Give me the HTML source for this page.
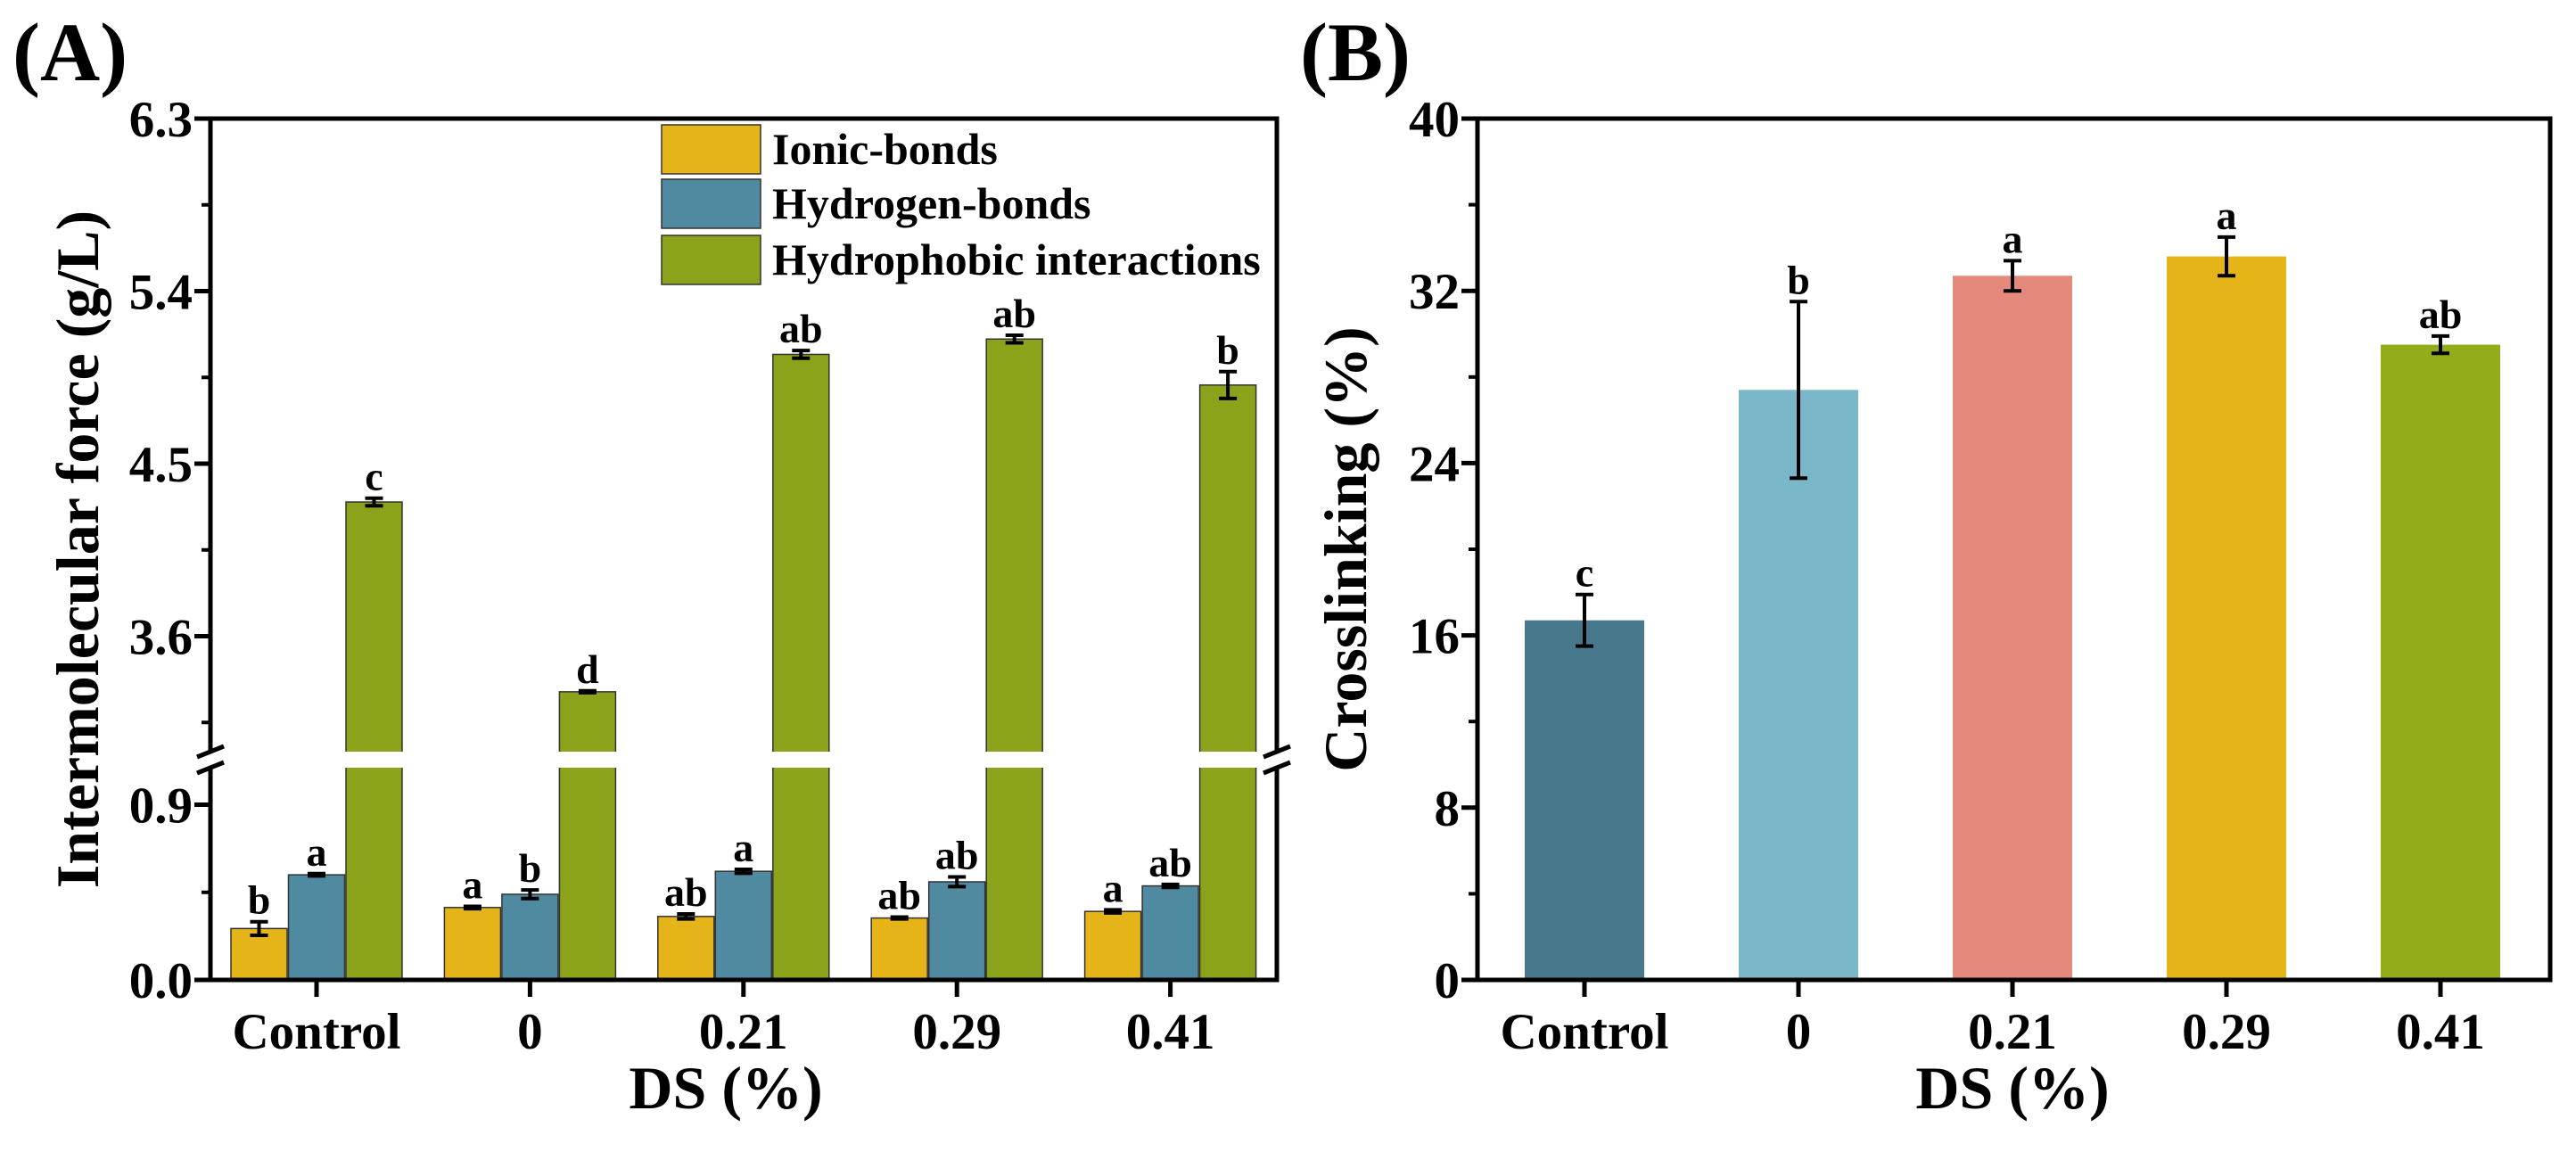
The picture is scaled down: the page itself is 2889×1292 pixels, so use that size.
<!DOCTYPE html>
<html><head><meta charset="utf-8">
<style>
html,body{margin:0;padding:0;background:#fff;}
svg{display:block;font-family:"Liberation Serif",serif;font-weight:bold;}
</style></head>
<body>
<svg id="chart" width="2889" height="1292" viewBox="0 0 2889 1292" xmlns="http://www.w3.org/2000/svg">
<text x="14" y="90" font-size="93">(A)</text>
<text x="1458" y="90" font-size="93">(B)</text>
<g id="A"></g>
<g id="B"></g>
</svg>
<script>
const categories = ["Control","0","0.21","0.29","0.41"];
const seriesNames = ["Ionic-bonds","Hydrogen-bonds","Hydrophobic interactions"];
const ionic = [0.264,0.372,0.326,0.318,0.352];
const ionicErr = [0.035,0.006,0.013,0.005,0.008];
const ionicSig = ["b","a","ab","ab","a"];
const hydrogen = [0.54,0.44,0.558,0.504,0.483];
const hydrogenErr = [0.006,0.022,0.01,0.025,0.008];
const hydrogenSig = ["a","b","a","ab","ab"];
const hydrophobic = [4.30,3.31,5.07,5.15,4.91];
const hydrophobicErr = [0.02,0.005,0.02,0.02,0.07];
const hydrophobicSig = ["c","d","ab","ab","b"];
const ticksALow = ["0.0","0.9"];
const ticksAHigh = ["3.6","4.5","5.4","6.3"];
const crosslink = [16.7,27.4,32.7,33.6,29.5];
const crosslinkErr = [1.2,4.1,0.7,0.9,0.4];
const crosslinkSig = ["c","b","a","a","ab"];
const ticksB = ["0","8","16","24","32","40"];

const NS="http://www.w3.org/2000/svg";
function mk(parent,tag,attrs,text){const e=document.createElementNS(NS,tag);for(const k in attrs)e.setAttribute(k,attrs[k]);if(text!==undefined)e.textContent=text;parent.appendChild(e);return e;}
const TICKF=57, LETF=46, TITLEF=68;

// ---------- Panel A ----------
const A=document.getElementById('A');
const aL=236,aR=1432,aT=133,aB=1099;
const breakTop=843, breakBot=861;
function yA(v){ if(v<=1.2) return aB - v*218.3; return 713.5 - (v-3.6)*215; }
function xA(i){ return 355 + i*239.4; }
const colorsA=["#e5b418","#4f8aa0","#8aa31a"];
const seriesA=[ionic,hydrogen,hydrophobic], errA=[ionicErr,hydrogenErr,hydrophobicErr], sigA=[ionicSig,hydrogenSig,hydrophobicSig];
const bw=63;
seriesA.forEach((ser,s)=>{
  ser.forEach((v,i)=>{
    const cx=xA(i)+(s-1)*64.5;
    const yt=yA(v);
    const r=mk(A,'rect',{x:cx-bw/2,y:yt,width:bw,height:aB-yt,fill:colorsA[s],stroke:"#333",'stroke-width':1.5});
    
    
    const e=errA[s][i];
    const y1=yA(v+e), y2=yA(v-e);
    const g=mk(A,'g',{stroke:"#000",'stroke-width':4});
    
    
    mk(g,'line',{x1:cx,x2:cx,y1:y1,y2:y2});
    mk(g,'line',{x1:cx-10,x2:cx+10,y1:y1,y2:y1});
    mk(g,'line',{x1:cx-10,x2:cx+10,y1:y2,y2:y2});
    const t=mk(A,'text',{x:cx,y:y1-9,'font-size':LETF,'text-anchor':'middle'},sigA[s][i]);
    
    
  });
});
mk(A,'rect',{x:aL-20,y:breakTop,width:aR-aL+40,height:breakBot-breakTop,fill:"#fff"});
const SW=5;
mk(A,'line',{x1:aL,x2:aL,y1:aT,y2:breakTop,stroke:"#000",'stroke-width':SW});
mk(A,'line',{x1:aL,x2:aL,y1:breakBot,y2:aB,stroke:"#000",'stroke-width':SW});
mk(A,'line',{x1:aR,x2:aR,y1:aT,y2:breakTop,stroke:"#000",'stroke-width':SW});
mk(A,'line',{x1:aR,x2:aR,y1:breakBot,y2:aB,stroke:"#000",'stroke-width':SW});
mk(A,'line',{x1:aL-2.5,x2:aR+2.5,y1:aT,y2:aT,stroke:"#000",'stroke-width':SW});
mk(A,'line',{x1:aL-2.5,x2:aR+2.5,y1:aB,y2:aB,stroke:"#000",'stroke-width':SW});
[aL,aR].forEach(x=>{
  mk(A,'line',{x1:x-15,x2:x+15,y1:breakTop+6,y2:breakTop-6,stroke:"#000",'stroke-width':SW});
  mk(A,'line',{x1:x-15,x2:x+15,y1:breakBot+6,y2:breakBot-6,stroke:"#000",'stroke-width':SW});
});
ticksALow.concat(ticksAHigh).forEach(t=>{const y=yA(parseFloat(t));
  mk(A,'line',{x1:aL-18,x2:aL,y1:y,y2:y,stroke:"#000",'stroke-width':SW});
  const tx=mk(A,'text',{x:aL-20,y:y+20,'font-size':TICKF,'text-anchor':'end'},t);
  });
[0.45,3.15,4.05,4.95,5.85].forEach(v=>{const y=yA(v);mk(A,'line',{x1:aL-10,x2:aL,y1:y,y2:y,stroke:"#000",'stroke-width':4});});
categories.forEach((c,i)=>{const x=xA(i);
  mk(A,'line',{x1:x,x2:x,y1:aB,y2:aB+19,stroke:"#000",'stroke-width':SW});
  const tx=mk(A,'text',{x:x,y:1176,'font-size':TICKF,'text-anchor':'middle'},c);
  });
let t1=mk(A,'text',{x:814,y:1243,'font-size':TITLEF,'text-anchor':'middle'},"DS (%)");

t1=mk(A,'text',{x:0,y:0,'font-size':TITLEF,'text-anchor':'middle',transform:'translate(110,616) rotate(-90)'},"Intermolecular force (g/L)");

const legY=[140,201,264];
seriesNames.forEach((n,s)=>{const y=legY[s];
  const r=mk(A,'rect',{x:742,y:y,width:111,height:55,fill:colorsA[s],stroke:"#333",'stroke-width':1.5});
  
  const tx=mk(A,'text',{x:866,y:y+44,'font-size':50},n);
  });

// ---------- Panel B ----------
const B=document.getElementById('B');
const bL=1657,bR=2860,bT=133,bB=1099;
function yB(v){return bB - v*(bB-bT)/40;}
function xB(i){return 1777 + i*240;}
const colorsB=["#47788c","#7ab7c8","#e5897c","#e5b418","#93ad1a"];
crosslink.forEach((v,i)=>{
  const cx=xB(i), yt=yB(v);
  const r=mk(B,'rect',{x:cx-67,y:yt,width:134,height:bB-yt,fill:colorsB[i]});
  
  
  const e=crosslinkErr[i], y1=yB(v+e), y2=yB(v-e);
  const g=mk(B,'g',{stroke:"#000",'stroke-width':4});
  
  
  mk(g,'line',{x1:cx,x2:cx,y1:y1,y2:y2});
  mk(g,'line',{x1:cx-10,x2:cx+10,y1:y1,y2:y1});
  mk(g,'line',{x1:cx-10,x2:cx+10,y1:y2,y2:y2});
  const t=mk(B,'text',{x:cx,y:y1-9,'font-size':LETF,'text-anchor':'middle'},crosslinkSig[i]);
  
  
});
mk(B,'rect',{x:bL,y:bT,width:bR-bL,height:bB-bT,fill:"none",stroke:"#000",'stroke-width':SW});
ticksB.forEach(t=>{const y=yB(parseFloat(t));
  mk(B,'line',{x1:bL-18,x2:bL,y1:y,y2:y,stroke:"#000",'stroke-width':SW});
  const tx=mk(B,'text',{x:bL-20,y:y+20,'font-size':TICKF,'text-anchor':'end'},t);
  });
[4,12,20,28,36].forEach(v=>{const y=yB(v);mk(B,'line',{x1:bL-10,x2:bL,y1:y,y2:y,stroke:"#000",'stroke-width':4});});
categories.forEach((c,i)=>{const x=xB(i);
  mk(B,'line',{x1:x,x2:x,y1:bB,y2:bB+19,stroke:"#000",'stroke-width':SW});
  const tx=mk(B,'text',{x:x,y:1176,'font-size':TICKF,'text-anchor':'middle'},c);
  });
t1=mk(B,'text',{x:2257,y:1243,'font-size':TITLEF,'text-anchor':'middle'},"DS (%)");

t1=mk(B,'text',{x:0,y:0,'font-size':TITLEF,'text-anchor':'middle',transform:'translate(1532,616) rotate(-90)'},"Crosslinking (%)");

</script>
</body></html>
